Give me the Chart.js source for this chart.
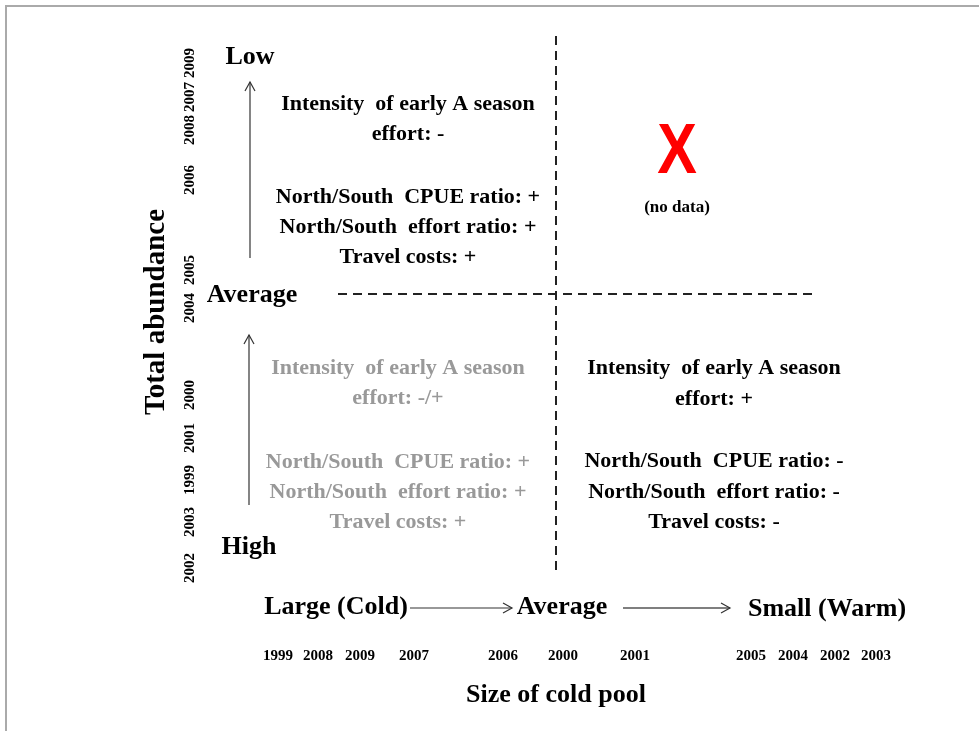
<!DOCTYPE html>
<html>
<head>
<meta charset="utf-8">
<title>Total abundance vs size of cold pool</title>
<script src="https://cdn.jsdelivr.net/npm/chart.js@4.4.1/dist/chart.umd.min.js"></script>
<style>
  html, body { margin: 0; padding: 0; background: #fff; }
  #wrap { width: 979px; height: 731px; }
</style>
</head>
<body>
<div id="wrap"><canvas id="diagram" width="979" height="731"></canvas></div>
<script>
// ---- DATA ----
// years ordered along the cold pool axis (large/cold -> small/warm)
const coldPoolYears = ['1999', '2008', '2009', '2007', '2006', '2000', '2001', '2005', '2004', '2002', '2003'];
// years ordered along the abundance axis (high -> low)
const abundanceYears = ['2002', '2003', '1999', '2001', '2000', '2004', '2005', '2006', '2008', '2007', '2009'];
const coldPoolLevels = ['Large (Cold)', 'Average', 'Small (Warm)'];
const abundanceLevels = ['High', 'Average', 'Low'];

const lowCold = ['Intensity  of early A season', 'effort: -', '', 'North/South  CPUE ratio: +', 'North/South  effort ratio: +', 'Travel costs: +'];
const highCold = ['Intensity  of early A season', 'effort: -/+', '', 'North/South  CPUE ratio: +', 'North/South  effort ratio: +', 'Travel costs: +'];
const highWarm = ['Intensity  of early A season', 'effort: +', '', 'North/South  CPUE ratio: -', 'North/South  effort ratio: -', 'Travel costs: -'];

// ---- LAYOUT (diagram coordinates) ----
const coldPoolYearX = [278, 318, 360, 414, 503, 563, 635, 751, 793, 835, 876];
const abundanceYearY = [568, 522, 480, 438, 395, 308, 270, 180, 130, 97, 63];
const SERIF = "'Liberation Serif', 'Times New Roman', serif";

// ---- TEXT PLUGIN ----
const diagramText = {
  id: 'diagramText',
  beforeDraw(chart) {
    const { ctx } = chart;
    const x = chart.scales.x, y = chart.scales.y;
    ctx.save();
    ctx.strokeStyle = '#aaaaaa';
    ctx.lineWidth = 2;
    ctx.beginPath();
    ctx.moveTo(x.getPixelForValue(6), y.getPixelForValue(731));
    ctx.lineTo(x.getPixelForValue(6), y.getPixelForValue(6));
    ctx.lineTo(x.getPixelForValue(979), y.getPixelForValue(6));
    ctx.stroke();
    ctx.restore();
  },
  afterDatasetsDraw(chart) {
    const { ctx } = chart;
    const sx = chart.scales.x, sy = chart.scales.y;
    const px = v => sx.getPixelForValue(v);
    const py = v => sy.getPixelForValue(v);

    // stretch: vertical scale factor to mimic the tall serif of the original
    const text = (str, x, y, size, color, rot, family, sxf) => {
      ctx.save();
      ctx.translate(px(x), py(y));
      if (rot) ctx.rotate(rot);
      if (sxf) ctx.scale(sxf, 1);
      ctx.font = `bold ${size}px ${family || SERIF}`;
      ctx.fillStyle = color || '#000';
      ctx.textAlign = 'center';
      ctx.textBaseline = 'middle';
      ctx.fillText(str, 0, 0);
      ctx.restore();
    };
    const block = (lines, cx, ys, color) => {
      lines.forEach((l, i) => { if (l) text(l, cx, ys[i], 22, color); });
    };

    // quadrant descriptions
    block(lowCold, 408, [104, 134, 0, 197, 227, 257], '#000');
    block(highCold, 398, [368, 398, 0, 462, 492, 522], '#999999');
    block(highWarm, 714, [368, 399, 0, 461, 492, 522], '#000');

    // no data quadrant
    text('X', 677, 154, 70, '#ff0000', 0, "'Liberation Sans', Arial, sans-serif", 0.85);
    text('(no data)', 677, 208, 17, '#000');

    // abundance levels
    text(abundanceLevels[2], 250, 57, 26);
    text(abundanceLevels[1], 252, 295, 26);
    text(abundanceLevels[0], 249, 547, 26);

    // cold pool levels
    text(coldPoolLevels[0], 336, 607, 26);
    text(coldPoolLevels[1], 562, 607, 26);
    text(coldPoolLevels[2], 827, 609, 26);

    // years
    coldPoolYears.forEach((yr, i) => text(yr, coldPoolYearX[i], 656, 15));
    abundanceYears.forEach((yr, i) => text(yr, 190, abundanceYearY[i], 15, '#000', -Math.PI / 2));

    // axis titles
    text('Size of cold pool', 556, 695, 26);
    text('Total abundance', 157, 312, 29, '#000', -Math.PI / 2);

    // arrow heads
    const head = (x, y, ang, color) => {
      ctx.save();
      ctx.translate(px(x), py(y));
      ctx.rotate(ang);
      ctx.strokeStyle = color;
      ctx.lineWidth = 1.2;
      ctx.beginPath();
      ctx.moveTo(-9, -5);
      ctx.lineTo(0, 0);
      ctx.lineTo(-9, 5);
      ctx.stroke();
      ctx.restore();
    };
    head(250, 82, -Math.PI / 2, '#333');
    head(249, 335, -Math.PI / 2, '#333');
    head(512, 608, 0, '#333');
    head(730, 608, 0, '#333');
  }
};

const line = (pts, color, width, dash) => ({
  data: pts.map(([x, y]) => ({ x, y })),
  showLine: true,
  borderColor: color,
  borderWidth: width,
  borderDash: dash || [],
  pointRadius: 0,
  fill: false,
});

new Chart(document.getElementById('diagram'), {
  type: 'scatter',
  data: {
    datasets: [
      line([[556, 36], [556, 570]], '#222', 2, [9, 6]),
      line([[338, 294], [814, 294]], '#222', 2, [9, 6]),
      line([[250, 258], [250, 82]], '#333', 1.2),
      line([[249, 505], [249, 335]], '#333', 1.2),
      line([[410, 608], [512, 608]], '#333', 1.2),
      line([[623, 608], [730, 608]], '#555', 1.5),
    ]
  },
  options: {
    responsive: false,
    animation: false,
    layout: { padding: 0 },
    scales: {
      x: { type: 'linear', min: 0, max: 979, display: false },
      y: { type: 'linear', min: 0, max: 731, reverse: true, display: false }
    },
    plugins: {
      legend: { display: false },
      tooltip: { enabled: false }
    }
  },
  plugins: [diagramText]
});
</script>
</body>
</html>
